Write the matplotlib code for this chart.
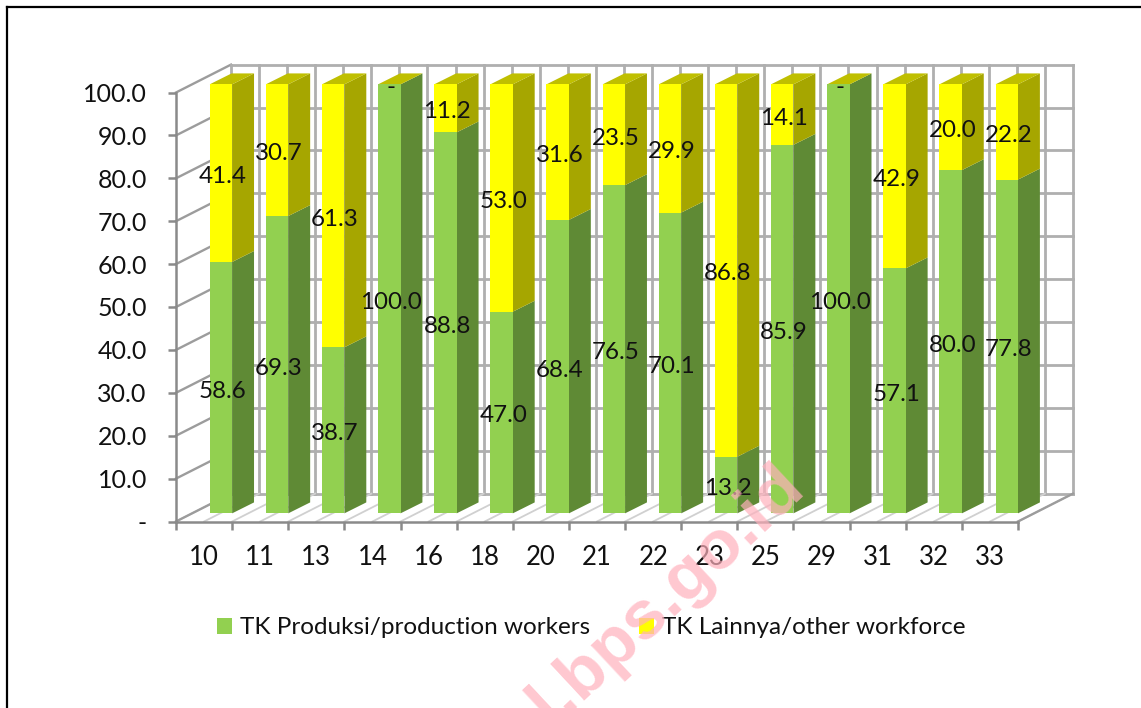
import matplotlib
matplotlib.use("Agg")
import matplotlib.pyplot as plt
from matplotlib.lines import Line2D
from matplotlib.patches import Polygon

plt.rcParams['font.family'] = ['Lato', 'DejaVu Sans']

categories = ["10","11","13","14","16","18","20","21","22","23","25","29","31","32","33"]
production = [58.6,69.3,38.7,100.0,88.8,47.0,68.4,76.5,70.1,13.2,85.9,100.0,57.1,80.0,77.8]
other = [41.4,30.7,61.3,0,11.2,53.0,31.6,23.5,29.9,86.8,14.1,0,42.9,20.0,22.2]
yticks = [0,10,20,30,40,50,60,70,80,90,100]

W,H = 1141,708
GREEN,GREEN_SIDE = "#92D050","#5F8A35"
YELLOW,YELLOW_SIDE,YELLOW_TOP = "#FFFF00","#A6A600","#BFBF00"
TEXT = "#111111"

# oblique offsets, in data units
wall_dx,wall_dy = 0.98,6.5
bar_dx,bar_dy = 0.39,2.55
bar_x,bar_y,bar_w = 0.6,1.9,0.4

fig = plt.figure(figsize=(W/100,H/100),dpi=100)
ax = fig.add_axes([176/W,1-521.5/H,842/W,429/H])
ax.set_xlim(0,len(categories))
ax.set_ylim(0,100)
for s in ["top","right"]:
    ax.spines[s].set_visible(False)
for s in ["left","bottom"]:
    ax.spines[s].set_color("#8A8A8A")
    ax.spines[s].set_linewidth(1.8)
    ax.spines[s].set_zorder(1.5)
ax.patch.set_visible(False)

n = len(categories)
# back wall
for v in yticks:
    ax.plot([wall_dx,n+wall_dx],[v+wall_dy]*2,color="#AFAFAF",lw=2,clip_on=False,zorder=1)
    if v>0:
        ax.plot([0,wall_dx],[v,v+wall_dy],color="#9C9C9C",lw=1.7,clip_on=False,zorder=1)
for k in range(2*n+1):
    x = k/2+wall_dx
    ax.plot([x,x],[wall_dy,100+wall_dy],color="#AFAFAF",lw=2,clip_on=False,zorder=1)
    ax.plot([k/2,x],[0,wall_dy],color="#D0D0D0",lw=1.3,clip_on=False,zorder=1)
ax.plot([0,wall_dx],[0,wall_dy],color="#9C9C9C",lw=1.7,clip_on=False,zorder=1)
ax.plot([n,n+wall_dx],[0,wall_dy],color="#9C9C9C",lw=1.7,clip_on=False,zorder=1)

def side(x,y0,y1,color):
    ax.add_patch(Polygon([(x,y0),(x+bar_dx,y0+bar_dy),(x+bar_dx,y1+bar_dy),(x,y1)],
                         fc=color,ec="none",clip_on=False,zorder=2))

for i in range(n):
    left = i+bar_x
    right = left+bar_w
    b0 = bar_y
    b1 = bar_y+production[i]
    b2 = b1+other[i]
    side(right,b0,b1,GREEN_SIDE)
    side(right,b1,b2,YELLOW_SIDE)
    ax.add_patch(Polygon([(left,b2),(right,b2),(right+bar_dx,b2+bar_dy),(left+bar_dx,b2+bar_dy)],
                         fc=YELLOW_TOP,ec="none",clip_on=False,zorder=2))

x_bars = [i+bar_x for i in range(n)]
bars1 = ax.bar(x_bars,production,bar_w,bottom=bar_y,align="edge",color=GREEN,
               label="TK Produksi/production workers",zorder=3,clip_on=False)
bars2 = ax.bar(x_bars,other,bar_w,bottom=[bar_y+p for p in production],align="edge",color=YELLOW,
               label="TK Lainnya/other workforce",zorder=3,clip_on=False)

label_shift = -0.8
for i in range(n):
    xc = x_bars[i]+bar_w/2+0.03
    ax.text(xc,bar_y+production[i]/2+label_shift,"%.1f"%production[i],ha="center",va="center",
            fontsize=17.4,color=TEXT,zorder=5,clip_on=False)
    txt = "%.1f"%other[i] if other[i]>0 else "-"
    ax.text(xc,bar_y+production[i]+other[i]/2+label_shift,txt,ha="center",va="center",
            fontsize=17.4,color=TEXT,zorder=5,clip_on=False)

ax.set_yticks(yticks)
ax.set_yticklabels(["-" if v==0 else "%.1f"%v for v in yticks],fontsize=18,color=TEXT)
ax.tick_params(axis="y",length=6,width=1.8,color="#8A8A8A",pad=15)
ax.set_xticks(range(n+1))
ax.set_xticklabels([])
ax.tick_params(axis="x",which="major",length=6,width=1.8,color="#8A8A8A")
ax.set_xticks([i+0.5 for i in range(n)],minor=True)
ax.set_xticklabels(categories,minor=True,fontsize=18.5,color=TEXT)
ax.tick_params(axis="x",which="minor",length=0,pad=17)

ax.legend(loc="center",bbox_to_anchor=(0.4935,-0.248),ncol=2,frameon=False,fontsize=17.5,
          handlelength=0.6,handleheight=0.6,handletextpad=0.35,columnspacing=2.0,
          labelcolor=TEXT)

# frame round the page, open at right and bottom
fig.add_artist(Line2D([7/W,1],[1-7/H,1-7/H],color="black",lw=1.6))
fig.add_artist(Line2D([7/W,7/W],[0,1-7/H],color="black",lw=1.6))

# watermark
fig.text(807/W,1-492/H,"al.bps.go.id",rotation=43,rotation_mode="anchor",ha="right",va="baseline",
         fontsize=50,fontweight="bold",family="Liberation Sans",color="#FFB0BC",alpha=0.7,zorder=10)

fig.savefig("out.png",dpi=100)
